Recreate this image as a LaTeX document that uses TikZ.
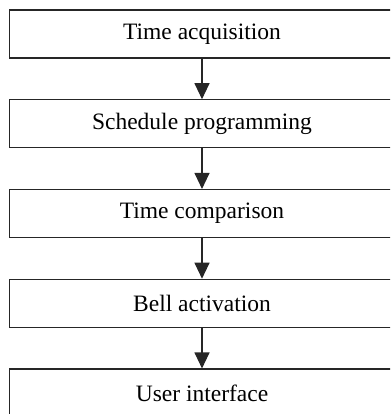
\documentclass[tikz,border=0pt]{standalone}
\usepackage{fontspec}
\setmainfont{Liberation Serif}
\usetikzlibrary{arrows.meta}
\begin{document}
\begin{tikzpicture}[x=1pt,y=1pt,
  stepbox/.style={draw=black!85, line width=1.1pt, minimum width=385pt, minimum height=48pt,
    inner sep=0pt, font=\fontsize{23.5}{28}\selectfont, anchor=center},
  flow/.style={draw=black!85, line width=1.1pt, -{Triangle[width=15pt,length=16pt]}}]
\useasboundingbox (0,0) rectangle (390,-414);
\clip (0,0) rectangle (390,-414);
\node[stepbox] (a) at (202,-34) {Time acquisition};
\node[stepbox] (b) at (202,-123.75) {Schedule programming};
\node[stepbox] (c) at (202,-213.5) {Time comparison};
\node[stepbox] (d) at (202,-303.25) {Bell activation};
\node[stepbox] (e) at (202,-393) {User interface};
\draw[flow] (a.south) -- (b.north);
\draw[flow] (b.south) -- (c.north);
\draw[flow] (c.south) -- (d.north);
\draw[flow] (d.south) -- (e.north);
\end{tikzpicture}
\end{document}
